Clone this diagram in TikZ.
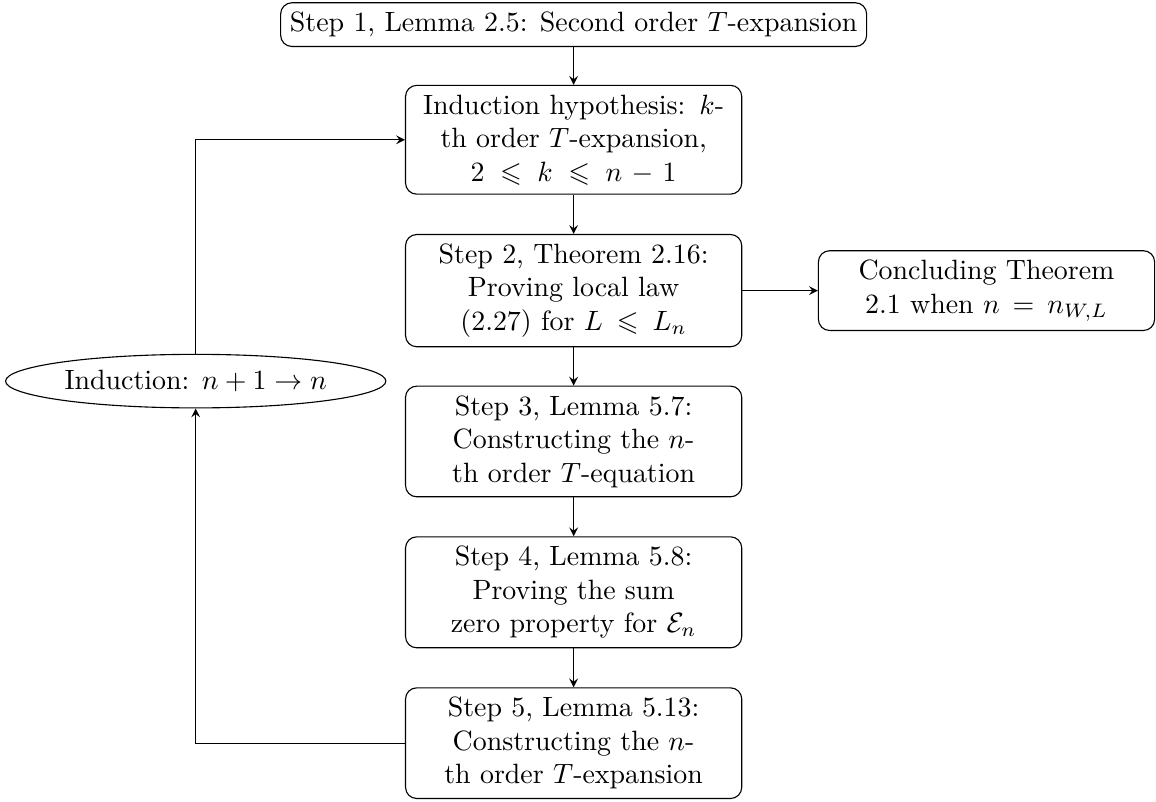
\documentclass[tikz,border=0pt]{standalone}
\usepackage{tikz}
\usepackage{amsmath}
\usepackage{amssymb}
\usetikzlibrary{shapes.geometric, arrows, positioning, calc}
\tikzstyle{startbox} = [rectangle, rounded corners, text centered, draw=black]
\tikzstyle{stepbox} = [rectangle, rounded corners, text width=4cm, text centered, draw=black]
\tikzstyle{loopnode} = [ellipse, inner xsep=1.2pt, inner ysep=2.9pt, draw=black]
\tikzstyle{arrow} = [->,>=stealth]

\begin{document}
\begin{tikzpicture}[node distance=1.9cm]
    \node (start) [startbox] {Step 1, Lemma 2.5: Second order $T$-expansion};
    \node (hyp) [stepbox, below of=start, node distance=1.45cm] {Induction hypothesis: $k$-\\th order $T$-expansion, $2 \leqslant k \leqslant n-1$};
    \node (step2) [stepbox, below of=hyp] {Step 2, Theorem 2.16: Proving local law (2.27) for $L \leqslant L_n$};
    \node (conclude) [stepbox, right of=step2, node distance=5.2cm] {Concluding Theorem 2.1 when $n = n_{W,L}$};
    \node (step3) [stepbox, below of=step2] {Step 3, Lemma 5.7: Constructing the $n$-th order $T$-equation};
    \node (step4) [stepbox, below of=step3] {Step 4, Lemma 5.8: Proving the sum zero property for $\mathcal{E}_n$};
    \node (step5) [stepbox, below of=step4] {Step 5, Lemma 5.13: Constructing the $n$-\\th order $T$-expansion};
    \node (induct) [loopnode] at ([xshift=-4.76cm]$(step2)!0.6!(step3)$) {Induction: $n+1 \to n$};

    \draw [arrow] (start) -- (hyp);
    \draw [arrow] (hyp) -- (step2);
    \draw [arrow] (step2) -- (conclude);
    \draw [arrow] (step2) -- (step3);
    \draw [arrow] (step3) -- (step4);
    \draw [arrow] (step4) -- (step5);
    \draw [arrow] (step5.west) -| (induct.south);
    \draw [arrow] (induct.north) |- (hyp.west);

    \pgfresetboundingbox
    \path[use as bounding box] ($(induct.west |- start.north)+(-1.8pt,0.8pt)$) rectangle ($(conclude.east |- step5.south)+(0.3pt,-0.8pt)$);
\end{tikzpicture}
\end{document}
